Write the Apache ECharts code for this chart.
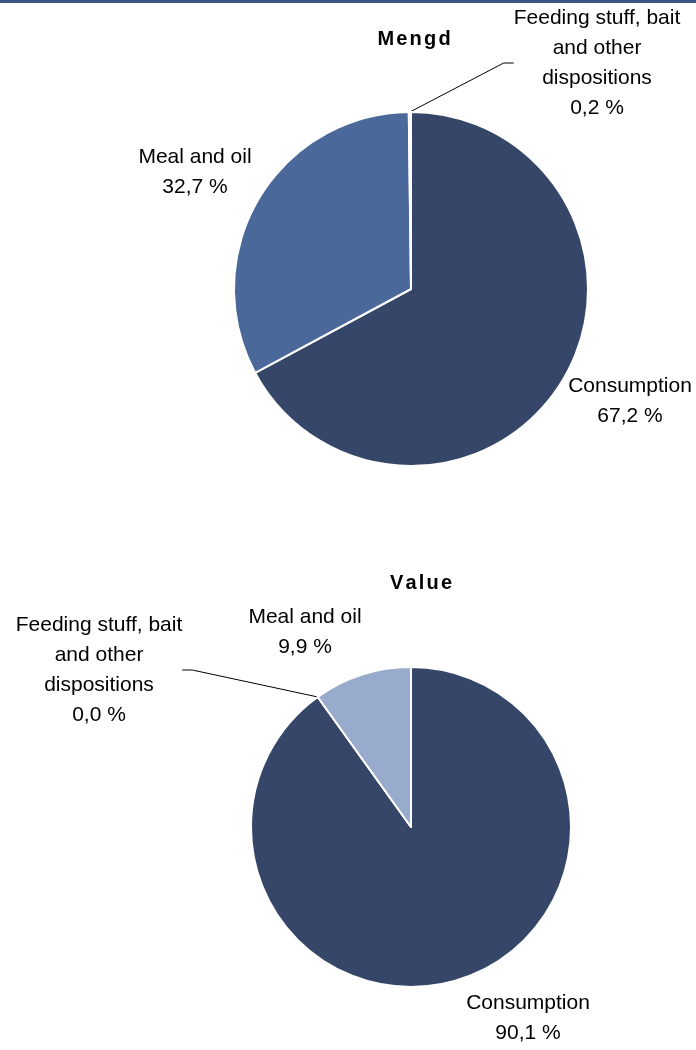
<!DOCTYPE html>
<html>
<head>
<meta charset="utf-8">
<script src="https://cdn.jsdelivr.net/npm/echarts@6/dist/echarts.min.js"></script>
<style>
  html, body { margin: 0; padding: 0; background: #fff; }
  #topbar { position: absolute; left: 0; top: 0; width: 696px; height: 3px; background: #3f5585; }
  #chart { position: absolute; left: 0; top: 0; width: 696px; height: 1050px; }
</style>
</head>
<body>
<div id="chart"></div>
<div id="topbar"></div>
<script>
// Shares (%) of fish use, by quantity and by value
const categories = ['Consumption', 'Meal and oil', 'Feeding stuff, bait\nand other\ndispositions'];
const quantityShare = [67.2, 32.7, 0.2];
const valueShare = [90.1, 9.9, 0.0];
const titles = ['Mengd', 'Value'];

// slice drawing order per pie (indices into categories)
const quantityOrder = [0, 1, 2];
const valueOrder = [0, 2, 1];

const quantityColors = ['#354668', '#4a6899', '#98aacc'];
const valueColors = ['#354668', '#99abcd', '#99abcd'];

// label centres per pie, keyed by category index
const labelPos = [
  { 0: [630, 401], 1: [195, 172], 2: [597, 63] },
  { 0: [528, 1018], 1: [305, 632], 2: [99, 670] }
];

const FONT = 'Liberation Sans, Arial, sans-serif';

function fmt(v) { return v.toFixed(1).replace('.', ',') + ' %'; }

// spaced-out bold heading, one rich token per letter
function spaced(word) {
  return word.split('').map(ch => '{s|' + ch + '}').join('');
}

function buildData(values, order, colors) {
  return order.map(i => ({
    name: categories[i],
    value: values[i],
    itemStyle: { color: colors[i] },
    labelLine: { show: i === 2 }
  }));
}

function pieSeries(idx, values, order, colors, center, radius) {
  return {
    type: 'pie',
    center: center,
    radius: radius,
    startAngle: 90,
    clockwise: true,
    avoidLabelOverlap: false,
    animation: false,
    silent: true,
    itemStyle: { borderColor: '#fff', borderWidth: 2 },
    label: {
      show: true,
      position: 'outside',
      formatter: p => p.name + '\n' + fmt(p.value),
      fontFamily: FONT,
      fontSize: 21,
      color: '#000',
      lineHeight: 30,
      align: 'center'
    },
    labelLine: {
      show: true,
      length: 10,
      length2: 10,
      smooth: false,
      lineStyle: { color: '#000', width: 1 }
    },
    labelLayout: function (p) {
      const cat = order[p.dataIndex];
      const pos = labelPos[idx][cat];
      return { x: pos[0], y: pos[1], align: 'center', verticalAlign: 'middle' };
    },
    data: buildData(values, order, colors)
  };
}

const titleStyle = {
  fontFamily: FONT, fontSize: 20, fontWeight: 'bold', color: '#000',
  rich: { s: { fontFamily: FONT, fontSize: 20, fontWeight: 'bold', color: '#000', padding: [0, 1.1] } }
};

const chart = echarts.init(document.getElementById('chart'), null, { renderer: 'canvas' });
chart.setOption({
  backgroundColor: '#fff',
  title: [
    { text: spaced(titles[0]), left: 409, top: 24, textAlign: 'center', textStyle: titleStyle },
    { text: spaced(titles[1]), left: 416, top: 568, textAlign: 'center', textStyle: titleStyle }
  ],
  series: [
    pieSeries(0, quantityShare, quantityOrder, quantityColors, [411, 289], 177),
    pieSeries(1, valueShare, valueOrder, valueColors, [411, 827], 160)
  ]
});
</script>
</body>
</html>
